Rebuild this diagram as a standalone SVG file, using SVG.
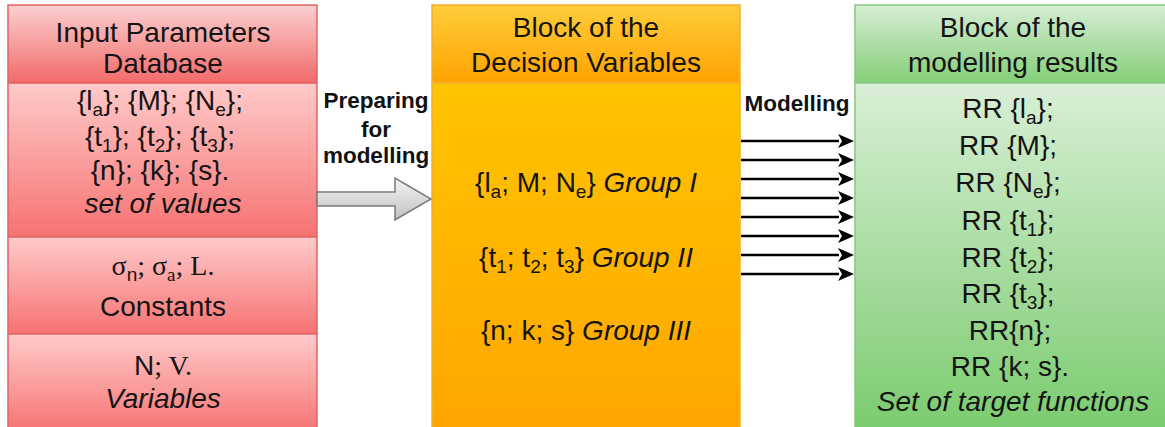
<svg xmlns="http://www.w3.org/2000/svg" width="1165" height="427" viewBox="0 0 1165 427">
<style>
.t{font-family:"Liberation Sans",Arial,sans-serif;font-size:28px;fill:#141414;text-anchor:middle}
.i{font-style:italic}
.s{font-family:"Liberation Serif","Times New Roman",serif}
.sb{font-size:19px}
.lbl{font-family:"Liberation Sans",Arial,sans-serif;font-size:22.5px;font-weight:bold;fill:#111;text-anchor:middle}
.red{stroke:#e06666;stroke-width:1.5}
.org{stroke:#f0b030;stroke-width:1.5}
.grn{stroke:#88c880;stroke-width:1.5}
.arr{stroke:#000;stroke-width:2.5;fill:none;marker-end:url(#ah)}
</style>
<defs>
<linearGradient id="rh" x1="0" y1="0" x2="0" y2="1"><stop offset="0" stop-color="#fbd0d0"/><stop offset="1" stop-color="#f26a6a"/></linearGradient>
<linearGradient id="rb" x1="0" y1="0" x2="0" y2="1"><stop offset="0" stop-color="#ffcaca"/><stop offset="1" stop-color="#f77272"/></linearGradient>
<linearGradient id="oh" x1="0" y1="0" x2="0" y2="1"><stop offset="0" stop-color="#ffcd3a"/><stop offset="1" stop-color="#ffa300"/></linearGradient>
<linearGradient id="ob" x1="0" y1="0" x2="0" y2="1"><stop offset="0" stop-color="#ffc400"/><stop offset="1" stop-color="#ffa600"/></linearGradient>
<linearGradient id="gh" x1="0" y1="0" x2="0" y2="1"><stop offset="0" stop-color="#d6edd3"/><stop offset="1" stop-color="#84cf78"/></linearGradient>
<linearGradient id="gb" x1="0" y1="0" x2="0" y2="1"><stop offset="0" stop-color="#d9efd6"/><stop offset="1" stop-color="#7acb6e"/></linearGradient>
<linearGradient id="ga" x1="0" y1="0" x2="0" y2="1"><stop offset="0" stop-color="#f4f4f4"/><stop offset="1" stop-color="#c0c0c0"/></linearGradient>
<marker id="ah" markerUnits="userSpaceOnUse" markerWidth="16" markerHeight="14" refX="1" refY="7" orient="auto"><path d="M0,0 L16,7 L0,14 L4,7 Z" fill="#000"/></marker>
</defs>

<g id="input-db">
<rect x="8" y="5" width="309" height="78" fill="url(#rh)" class="red"/>
<text class="t" x="163" y="42">Input Parameters</text>
<text class="t" x="163" y="73">Database</text>
</g>
<g id="set-of-values">
<rect x="8" y="83" width="309" height="154" fill="url(#rb)" class="red"/>
<text class="t" x="160" y="110">{l<tspan class="sb" dy="6">a</tspan><tspan dy="-6">}; {M}; {N</tspan><tspan class="sb" dy="6">e</tspan><tspan dy="-6">};</tspan></text>
<text class="t" x="160" y="146">{t<tspan class="sb" dy="6">1</tspan><tspan dy="-6">}; {t</tspan><tspan class="sb" dy="6">2</tspan><tspan dy="-6">}; {t</tspan><tspan class="sb" dy="6">3</tspan><tspan dy="-6">};</tspan></text>
<text class="t" x="160" y="180">{n}; {k}; {s}.</text>
<text class="t i" x="163" y="213">set of values</text>
</g>
<g id="constants">
<rect x="8" y="237" width="309" height="97" fill="url(#rb)" class="red"/>
<text class="t" x="163" y="275"><tspan class="s">σ</tspan><tspan class="sb" dy="6">n</tspan><tspan class="s" dy="-6">; σ</tspan><tspan class="sb s" dy="6">a</tspan><tspan class="s" dy="-6">; L.</tspan></text>
<text class="t" x="163" y="316">Constants</text>
</g>
<g id="variables">
<rect x="8" y="334" width="309" height="100" fill="url(#rb)" class="red"/>
<text class="t" x="163" y="375">N<tspan class="s">; V.</tspan></text>
<text class="t i" x="163" y="408">Variables</text>
</g>

<g id="decision-vars">
<rect x="432" y="5" width="308" height="78" fill="url(#oh)" class="org"/>
<text class="t" x="586" y="37">Block of the</text>
<text class="t" x="586" y="72">Decision Variables</text>
<rect x="432" y="83" width="308" height="350" fill="url(#ob)" class="org"/>
<text class="t" x="586" y="192">{l<tspan class="sb" dy="6">a</tspan><tspan dy="-6">; M; N</tspan><tspan class="sb" dy="6">e</tspan><tspan dy="-6">} </tspan><tspan class="i">Group I</tspan></text>
<text class="t" x="586" y="267">{t<tspan class="sb" dy="6">1</tspan><tspan dy="-6">; t</tspan><tspan class="sb" dy="6">2</tspan><tspan dy="-6">; t</tspan><tspan class="sb" dy="6">3</tspan><tspan dy="-6">} </tspan><tspan class="i">Group II</tspan></text>
<text class="t" x="586" y="340">{n; k; s} <tspan class="i">Group III</tspan></text>
</g>

<g id="modelling-results">
<rect x="855" y="5" width="320" height="78" fill="url(#gh)" class="grn"/>
<text class="t" x="1013" y="37">Block of the</text>
<text class="t" x="1013" y="72">modelling results</text>
<rect x="855" y="83" width="320" height="350" fill="url(#gb)" class="grn"/>
<text class="t" x="1008" y="118">RR {l<tspan class="sb" dy="6">a</tspan><tspan dy="-6">};</tspan></text>
<text class="t" x="1008" y="155">RR {M};</text>
<text class="t" x="1008" y="192">RR {N<tspan class="sb" dy="6">e</tspan><tspan dy="-6">};</tspan></text>
<text class="t" x="1008" y="230">RR {t<tspan class="sb" dy="6">1</tspan><tspan dy="-6">};</tspan></text>
<text class="t" x="1008" y="267">RR {t<tspan class="sb" dy="6">2</tspan><tspan dy="-6">};</tspan></text>
<text class="t" x="1008" y="303">RR {t<tspan class="sb" dy="6">3</tspan><tspan dy="-6">};</tspan></text>
<text class="t" x="1010" y="340">RR{n};</text>
<text class="t" x="1010" y="376">RR {k; s}.</text>
<text class="t i" x="1013" y="411">Set of target functions</text>
</g>

<g id="connectors">
<path d="M317,192 L395,192 L395,178 L431,199 L395,220 L395,206 L317,206 Z" fill="url(#ga)" stroke="#7a7a7a" stroke-width="1.5"/>
<text class="lbl" x="376" y="108">Preparing</text>
<text class="lbl" x="376" y="137">for</text>
<text class="lbl" x="376" y="163">modelling</text>
<text class="lbl" x="797" y="111">Modelling</text>
<line class="arr" x1="741" y1="141" x2="839" y2="141"/>
<line class="arr" x1="741" y1="160" x2="839" y2="160"/>
<line class="arr" x1="741" y1="179" x2="839" y2="179"/>
<line class="arr" x1="741" y1="198" x2="839" y2="198"/>
<line class="arr" x1="741" y1="217" x2="839" y2="217"/>
<line class="arr" x1="741" y1="236" x2="839" y2="236"/>
<line class="arr" x1="741" y1="255" x2="839" y2="255"/>
<line class="arr" x1="741" y1="274" x2="839" y2="274"/>
</g>
</svg>
